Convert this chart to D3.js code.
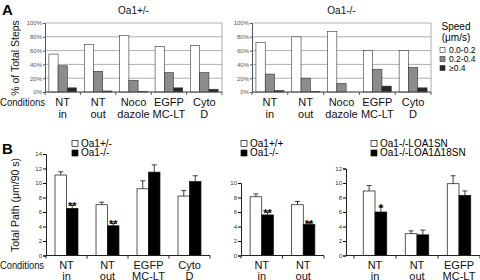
<!DOCTYPE html>
<html><head><meta charset="utf-8">
<script src="https://cdn.jsdelivr.net/npm/d3@7"></script>
<style>
html,body{margin:0;padding:0;background:#fff;}
svg{display:block;font-family:"Liberation Sans",Arial,sans-serif;}
</style></head>
<body><svg id="c" width="480" height="280"></svg>
<script>
// ---------- DATA ----------
const catsA = ["NT\nin", "NT\nout", "Noco\ndazole", "EGFP\nMC-LT", "Cyto\nD"];
const speedBins = ["0.0-0.2", "0.2-0.4", "\u22650.4"];
const titlesA = ["Oa1+/-", "Oa1-/-"];
const hetSlow = [55, 69, 82, 66, 67.5];
const hetMid  = [38, 30, 17, 28, 28];
const hetFast = [6, 1.5, 0.5, 6, 4];
const koSlow  = [72, 80, 87.5, 60, 60];
const koMid   = [26, 20, 12.5, 33, 35.5];
const koFast  = [2, 0.5, 0, 8.5, 6];
const ticksA = [0, 20, 40, 60, 80, 100];

const catsB1 = ["NT\nin", "NT\nout", "EGFP\nMC-LT", "Cyto\nD"];
const seriesB1 = ["Oa1+/-", "Oa1-/-"];
const b1White = [11.1, 7.0, 9.2, 8.2];
const b1WhiteErr = [0.45, 0.35, 1.1, 0.75];
const b1Black = [6.5, 4.1, 11.5, 10.2];
const b1BlackErr = [0.45, 0.35, 1.0, 0.8];
const b1Sig = ["**", "**", "", ""];
const ticksB1 = [0, 2, 4, 6, 8, 10, 12, 14];

const catsB2 = ["NT\nin", "NT\nout"];
const seriesB2 = ["Oa1+/+", "Oa1-/-"];
const b2White = [8.1, 7.0];
const b2WhiteErr = [0.4, 0.45];
const b2Black = [5.6, 4.3];
const b2BlackErr = [0.4, 0.25];
const b2Sig = ["**", "**"];
const ticksB2 = [0, 2, 4, 6, 8, 10];

const catsB3 = ["NT\nin", "NT\nout", "EGFP\nMC-LT"];
const seriesB3 = ["Oa1-/-LOA1SN", "Oa1-/-LOA1\u039418SN"];
const b3White = [8.9, 3.0, 9.9];
const b3WhiteErr = [0.75, 0.4, 1.1];
const b3Black = [6.0, 2.85, 8.3];
const b3BlackErr = [0.7, 0.65, 0.6];
const b3Sig = ["*", "", ""];
const ticksB3 = [0, 2, 4, 6, 8, 10, 12];

// ---------- DRAW ----------
const svg = d3.select("#c");
const FILLS = ["#ffffff", "#8c8c8c", "#262626"];

function multiline(sel, text, x, y, lh) {
  const t = sel.append("text").attr("x", x).attr("y", y).attr("text-anchor", "middle")
    .attr("font-size", 11).attr("fill", "#111");
  text.split("\n").forEach((s, i) => t.append("tspan").attr("x", x).attr("y", y + i * lh).text(s));
  return t;
}

// Panel letters
svg.append("text").attr("x", 2).attr("y", 15).attr("font-size", 15).attr("font-weight", "bold").text("A");
svg.append("text").attr("x", 2).attr("y", 154).attr("font-size", 15).attr("font-weight", "bold").text("B");

// ----- Panel A -----
function panelA(x0, x1, title, s1, s2, s3) {
  const g = svg.append("g");
  const y = d3.scaleLinear().domain([0, 100]).range([92, 23]);
  const x = d3.scaleBand().domain(catsA).range([x0, x1]);
  const bw = x.bandwidth() * 0.26;
  g.selectAll("line.grid").data(ticksA).join("line")
    .attr("x1", x0).attr("x2", x1).attr("y1", d => y(d)).attr("y2", d => y(d))
    .attr("stroke", "#9a9a9a").attr("stroke-width", 0.8);
  g.append("line").attr("x1", x1).attr("x2", x1).attr("y1", y(100)).attr("y2", y(0))
    .attr("stroke", "#9a9a9a").attr("stroke-width", 0.8);
  [s1, s2, s3].forEach((vals, si) => {
    g.selectAll(null).data(vals).join("rect")
      .attr("x", (d, i) => x(catsA[i]) + x.bandwidth() / 2 - 1.5 * bw + si * bw)
      .attr("y", d => y(d)).attr("width", bw).attr("height", d => y(0) - y(d))
      .attr("fill", FILLS[si]).attr("stroke", "#333").attr("stroke-width", 0.6);
  });
  const ya = g.append("g").attr("transform", `translate(${x0},0)`)
    .call(d3.axisLeft(y).tickValues(ticksA).tickFormat(d => d + "%").tickSize(2).tickPadding(1));
  ya.select(".domain").attr("stroke", "#555");
  ya.selectAll("text").attr("font-size", 6).attr("fill", "#555").attr("font-family", "Liberation Sans, Arial");
  ya.selectAll("line").attr("stroke", "#555");
  const xa = g.append("g").attr("transform", `translate(0,${y(0)})`);
  xa.append("line").attr("x1", x0).attr("x2", x1).attr("y1", 0).attr("y2", 0).attr("stroke", "#555");
  xa.selectAll("line.t").data(d3.range(catsA.length + 1)).join("line")
    .attr("x1", i => x0 + i * x.step()).attr("x2", i => x0 + i * x.step())
    .attr("y1", 0).attr("y2", 3).attr("stroke", "#555");
  catsA.forEach(c => multiline(g, c, x(c) + x.bandwidth() / 2, 106, 11.5));
  g.append("text").attr("x", (x0 + x1) / 2).attr("y", 14).attr("text-anchor", "middle")
    .attr("font-size", 10).attr("fill", "#111").text(title);
}
panelA(45, 222, titlesA[0], hetSlow, hetMid, hetFast);
panelA(252, 431, titlesA[1], koSlow, koMid, koFast);
svg.append("text").attr("text-anchor", "middle").attr("font-size", 10.5).attr("fill", "#111")
  .attr("transform", "translate(19,58) rotate(-90)").text("% of Total Steps");
svg.append("text").attr("x", 0).attr("y", 106).attr("font-size", 10.5).attr("fill", "#111")
  .attr("textLength", 45).attr("lengthAdjust", "spacingAndGlyphs").text("Conditions");

// Legend A
svg.append("text").attr("x", 456).attr("y", 30).attr("text-anchor", "middle").attr("font-size", 10).text("Speed");
svg.append("text").attr("x", 456).attr("y", 41).attr("text-anchor", "middle").attr("font-size", 10).text("(\u03bcm/s)");
speedBins.forEach((s, i) => {
  const yy = 50 + i * 9;
  svg.append("rect").attr("x", 440).attr("y", yy - 2.5).attr("width", 5).attr("height", 5)
    .attr("fill", FILLS[i]).attr("stroke", "#333").attr("stroke-width", 0.6);
  svg.append("text").attr("x", 449).attr("y", yy + 3).attr("font-size", 8.5).text(s);
});

// ----- Panel B -----
const yBase = 255.5, unit = 7.25;
function panelB(axisX, x0, x1, cats, ticks, wV, wE, bV, bE, sig, series, legX) {
  const g = svg.append("g");
  const maxV = d3.max(ticks);
  const y = d3.scaleLinear().domain([0, maxV]).range([yBase, yBase - maxV * unit]);
  const x = d3.scaleBand().domain(cats).range([x0, x1]);
  const bw = x.bandwidth() * 0.28;
  [[wV, wE, "#fff"], [bV, bE, "#000"]].forEach(([vals, errs, fill], si) => {
    const bx = i => x(cats[i]) + x.bandwidth() / 2 - bw + si * bw;
    g.selectAll(null).data(vals).join("rect")
      .attr("x", (d, i) => bx(i)).attr("y", d => y(d)).attr("width", bw).attr("height", d => y(0) - y(d))
      .attr("fill", fill).attr("stroke", "#111").attr("stroke-width", 0.7);
    g.selectAll(null).data(vals).join("line")
      .attr("x1", (d, i) => bx(i) + bw / 2).attr("x2", (d, i) => bx(i) + bw / 2)
      .attr("y1", d => y(d)).attr("y2", (d, i) => y(d + errs[i])).attr("stroke", "#111").attr("stroke-width", 0.8);
    g.selectAll(null).data(vals).join("line")
      .attr("x1", (d, i) => bx(i) + bw / 2 - 2.5).attr("x2", (d, i) => bx(i) + bw / 2 + 2.5)
      .attr("y1", (d, i) => y(d + errs[i])).attr("y2", (d, i) => y(d + errs[i])).attr("stroke", "#111").attr("stroke-width", 0.8);
    if (si === 1) {
      g.selectAll(null).data(vals).join("text")
        .attr("x", (d, i) => bx(i) + bw / 2).attr("y", (d, i) => y(d + errs[i]) + 5)
        .attr("text-anchor", "middle").attr("font-size", 11).attr("font-weight", "bold")
        .text((d, i) => sig[i]);
    }
  });
  const ya = g.append("g").attr("transform", `translate(${axisX},0)`)
    .call(d3.axisLeft(y).tickValues(ticks).tickSize(3).tickPadding(1));
  ya.select(".domain").attr("stroke", "#222");
  ya.selectAll("text").attr("font-size", 6).attr("fill", "#333").attr("font-family", "Liberation Sans, Arial");
  g.append("line").attr("x1", axisX).attr("x2", x1).attr("y1", yBase).attr("y2", yBase).attr("stroke", "#222");
  g.selectAll(null).data(d3.range(cats.length + 1)).join("line")
    .attr("x1", i => x0 + i * x.step()).attr("x2", i => x0 + i * x.step())
    .attr("y1", yBase).attr("y2", yBase + 3).attr("stroke", "#222");
  cats.forEach(c => multiline(g, c, x(c) + x.bandwidth() / 2, 268.5, 11));
  series.forEach((s, i) => {
    const yy = 145 + i * 9.5;
    svg.append("rect").attr("x", legX).attr("y", yy - 4.5).attr("width", 6).attr("height", 6)
      .attr("fill", i ? "#000" : "#fff").attr("stroke", "#111").attr("stroke-width", 0.7);
    svg.append("text").attr("x", legX + 9).attr("y", yy + 1.5).attr("font-size", 10).text(s);
  });
}
panelB(46, 46, 210, catsB1, ticksB1, b1White, b1WhiteErr, b1Black, b1BlackErr, b1Sig, seriesB1, 72);
panelB(241, 241, 324, catsB2, ticksB2, b2White, b2WhiteErr, b2Black, b2BlackErr, b2Sig, seriesB2, 241);
panelB(346, 354, 480, catsB3, ticksB3, b3White, b3WhiteErr, b3Black, b3BlackErr, b3Sig, seriesB3, 371);
svg.append("text").attr("text-anchor", "middle").attr("font-size", 10.5).attr("fill", "#111")
  .attr("transform", "translate(19,205) rotate(-90)").text("Total Path (\u03bcm/90 s)");
svg.append("text").attr("x", 0).attr("y", 268.5).attr("font-size", 10.5).attr("fill", "#111")
  .attr("textLength", 44).attr("lengthAdjust", "spacingAndGlyphs").text("Conditions");
</script></body></html>
